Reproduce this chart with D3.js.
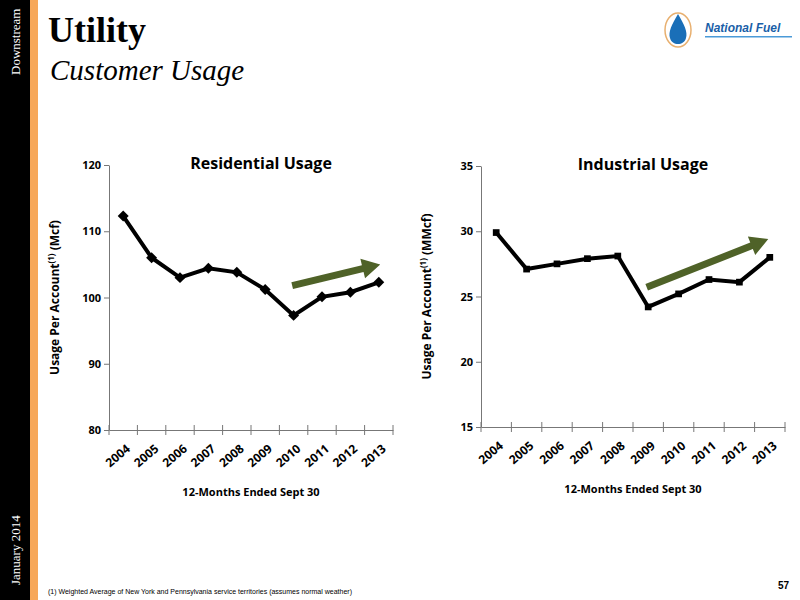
<!DOCTYPE html><html><head><meta charset="utf-8">
<script src="https://cdn.jsdelivr.net/npm/d3@7"></script>
<style>body{margin:0;background:#fff}svg{display:block}</style></head><body>
<svg id="c" width="800" height="600"></svg>
<script>
const years=["2004","2005","2006","2007","2008","2009","2010","2011","2012","2013"];
const residential=[112.3,106.0,103.0,104.4,103.8,101.2,97.3,100.1,100.8,102.3];
const industrial=[29.9,27.1,27.5,27.9,28.1,24.2,25.2,26.3,26.1,28.0];
const resTicks=[80,90,100,110,120];
const indTicks=[15,20,25,30,35];
const svg=d3.select("#c");
svg.append("rect").attr("x",0).attr("y",0).attr("width",30).attr("height",600).attr("fill","#000");
svg.append("rect").attr("x",30).attr("y",0).attr("width",8).attr("height",600).attr("fill","#f7a85a");
svg.append("text").attr("transform","translate(20,75) rotate(-90)").attr("fill","#fff").attr("font-family","Liberation Serif").attr("font-size",13).text("Downstream");
svg.append("text").attr("transform","translate(20,585) rotate(-90)").attr("fill","#fff").attr("font-family","Liberation Serif").attr("font-size",13).text("January 2014");
svg.append("text").attr("x",48).attr("y",42).attr("font-family","Liberation Serif").attr("font-weight","bold").attr("font-size",36).text("Utility");
svg.append("text").attr("x",50).attr("y",80).attr("font-family","Liberation Serif").attr("font-style","italic").attr("font-size",29).text("Customer Usage");
const lg=svg.append("g");
lg.append("ellipse").attr("cx",678).attr("cy",30).attr("rx",13).attr("ry",17).attr("fill","#fff").attr("stroke","#e8b070").attr("stroke-width",1.5);
lg.append("path").attr("d","M678,14 C672,24 668,32 670,38 C672,46 684,46 686,38 C688,32 684,24 678,14Z").attr("fill","#1a6fb8");
lg.append("text").attr("x",705).attr("y",32).attr("font-family","Liberation Sans").attr("font-weight","bold").attr("font-style","italic").attr("font-size",12).attr("fill","#1a5fa8").text("National Fuel");
lg.append("rect").attr("x",705).attr("y",36).attr("width",87).attr("height",1.5).attr("fill","#4a9ad8");
svg.append("text").attr("x",48).attr("y",594).attr("font-family","Liberation Sans").attr("font-size",7).text("(1)     Weighted Average of New York and Pennsylvania service territories (assumes normal weather)");
svg.append("text").attr("x",778).attr("y",589).attr("font-family","Liberation Sans").attr("font-size",10).attr("font-weight","bold").text("57");

function chart(o){
  const g=svg.append("g");
  const x=d3.scaleBand().domain(years).range([o.x0,o.x1]);
  const y=d3.scaleLinear().domain(o.dom).range([o.y1,o.y0]);
  const ff="Open Sans";
  g.append("g").attr("transform",`translate(${o.x0},0)`).call(d3.axisLeft(y).tickValues(o.ticks).tickSize(5).tickSizeOuter(0));
  const xa=g.append("g").attr("transform",`translate(0,${o.y1})`).call(d3.axisBottom(x).tickSize(0).tickSizeOuter(0));
  xa.selectAll("text").attr("transform","translate(-10,20) rotate(-40)").style("text-anchor","middle");
  g.selectAll(".bt").data(years.concat(["end"])).enter().append("line")
    .attr("x1",(d,i)=>o.x0+i*x.step()).attr("x2",(d,i)=>o.x0+i*x.step()).attr("y1",o.y1-5).attr("y2",o.y1+5).attr("stroke","#777");
  g.selectAll(".domain").attr("stroke","#777");
  g.selectAll(".tick line").attr("stroke","#777");
  g.selectAll("text").attr("font-family",ff).attr("font-weight","bold").attr("font-size",11).attr("fill","#000");
  xa.selectAll("text").attr("font-size",12);
  const cx=d=>x(d)+x.bandwidth()/2;
  g.append("path").datum(o.vals).attr("fill","none").attr("stroke","#000").attr("stroke-width",4)
    .attr("d",d3.line().x((d,i)=>cx(years[i])).y(d=>y(d)));
  g.selectAll(".m").data(o.vals).enter().append("path")
    .attr("transform",(d,i)=>`translate(${cx(years[i])},${y(d)})`+(o.dia?" rotate(45)":""))
    .attr("d",d3.symbol().type(d3.symbolSquare).size(o.dia?60:45)).attr("fill","#000");
  g.append("text").attr("x",(o.x0+o.x1)/2+10).attr("y",o.y0+4).attr("text-anchor","middle").attr("font-family",ff).attr("font-weight","bold").attr("font-size",16).text(o.title);
  g.append("text").attr("x",(o.x0+o.x1)/2).attr("y",o.y1+66).attr("text-anchor","middle").attr("font-family",ff).attr("font-weight","bold").attr("font-size",11).text("12-Months Ended Sept 30");
  const yl=g.append("text").attr("transform",`translate(${o.x0-50},${(o.y0+o.y1)/2}) rotate(-90)`).attr("text-anchor","middle").attr("font-family",ff).attr("font-weight","bold").attr("font-size",12);
  yl.append("tspan").text("Usage Per Account");
  yl.append("tspan").attr("font-size",8).attr("dy",-5).text("(1)");
  yl.append("tspan").attr("dy",5).text(" "+o.unit);
  const a=o.arrow, ax1=x(a[0])+a[1]*x.step(), ay1=y(a[2]), ax2=x(a[3])+a[4]*x.step(), ay2=y(a[5]);
  const ang=Math.atan2(ay2-ay1,ax2-ax1), L=Math.hypot(ax2-ax1,ay2-ay1);
  g.append("path").attr("transform",`translate(${ax1},${ay1}) rotate(${ang*180/Math.PI})`)
    .attr("d",`M0,-3.5 L${L-18},-3.5 L${L-18},-10 L${L},0 L${L-18},10 L${L-18},3.5 L0,3.5Z`).attr("fill","#4f6228");
}
chart({x0:109,x1:393,y0:165,y1:430,dom:[80,120],ticks:resTicks,vals:residential,dia:true,title:"Residential Usage",unit:"(Mcf)",arrow:["2010",0.45,101.8,"2013",0.55,105]});
chart({x0:481,x1:785,y0:166,y1:427,dom:[15,35],ticks:indTicks,vals:industrial,dia:false,title:"Industrial Usage",unit:"(MMcf)",arrow:["2009",0.45,25.7,"2013",0.45,29.4]});
</script></body></html>
